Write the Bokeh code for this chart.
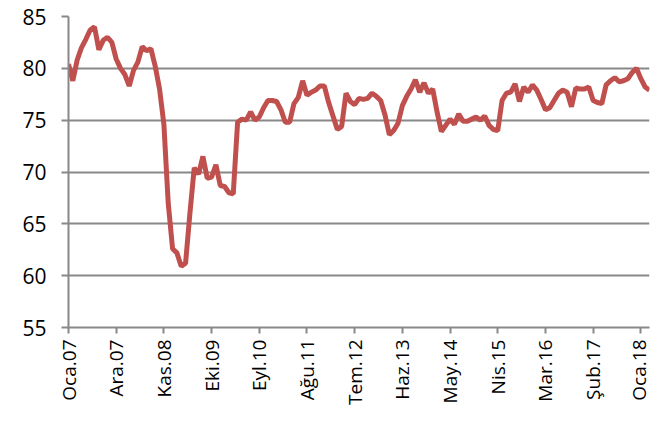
from math import pi

from bokeh.embed import file_html
from bokeh.models import ColumnDataSource, FixedTicker, Range1d
from bokeh.plotting import figure
from bokeh.resources import INLINE

# monthly values, Oca.07 .. Mar.18 (135 months)
months = list(range(135))
values = [
    80.4, 78.8, 80.8, 82.0, 82.8, 83.7, 84.0, 81.8, 82.7, 83.0, 82.5, 80.9,
    80.0, 79.4, 78.3, 79.8, 80.6, 82.1, 81.7, 81.9, 80.2, 78.0, 74.6, 67.0,
    62.6, 62.2, 60.9, 61.2, 66.0, 70.4, 69.8, 71.5, 69.4, 69.5, 70.7, 68.7,
    68.6, 68.0, 67.9, 74.8, 75.1, 75.0, 75.8, 75.0, 75.3, 76.2, 76.9, 76.9,
    76.8, 76.0, 74.8, 74.8, 76.6, 77.2, 78.8, 77.4, 77.7, 77.9, 78.3, 78.3,
    76.7, 75.4, 74.1, 74.4, 77.6, 76.8, 76.5, 77.1, 77.0, 77.1, 77.6, 77.3,
    76.9, 75.5, 73.6, 74.0, 74.7, 76.4, 77.3, 78.0, 78.9, 77.7, 78.6, 77.6,
    78.0, 75.8, 73.9, 74.5, 75.1, 74.6, 75.6, 74.9, 74.9, 75.1, 75.3, 75.0,
    75.4, 74.5, 74.1, 74.0, 76.9, 77.6, 77.7, 78.5, 76.8, 78.2, 77.7, 78.4,
    77.9, 77.0, 76.0, 76.2, 76.9, 77.6, 77.9, 77.7, 76.3, 78.1, 78.0, 78.0,
    78.2, 76.9, 76.7, 76.6, 78.4, 78.8, 79.1, 78.7, 78.8, 79.0, 79.6, 80.0,
    79.0, 78.2, 77.9,
]

# x axis labels, one every 11 months
tick_pos = [0, 11, 22, 33, 44, 55, 66, 77, 88, 99, 110, 121, 132]
tick_labels = ["Oca.07", "Ara.07", "Kas.08", "Eki.09", "Eyl.10", "Ağu.11", "Tem.12",
               "Haz.13", "May.14", "Nis.15", "Mar.16", "Şub.17", "Oca.18"]
y_ticks = [55, 60, 65, 70, 75, 80, 85]

source = ColumnDataSource(data=dict(month=months, value=values))

p = figure(width=651, height=407, output_backend="svg", toolbar_location=None,
           x_range=Range1d(0, 134), y_range=Range1d(55, 85),
           min_border_left=68, min_border_right=2, min_border_top=16, min_border_bottom=79)

p.line("month", "value", source=source, line_width=5, line_color="#C0504D")

grey = "#888888"
font = "Open Sans"

p.outline_line_color = None
p.xgrid.grid_line_color = None
p.ygrid.grid_line_color = grey
p.ygrid.grid_line_width = 2

# x axis
p.xaxis.ticker = FixedTicker(ticks=tick_pos)
p.xaxis.major_label_overrides = {t: l for t, l in zip(tick_pos, tick_labels)}
p.xaxis.major_label_orientation = pi / 2
p.xaxis.axis_line_color = grey
p.xaxis.axis_line_width = 2
p.xaxis.major_tick_line_color = grey
p.xaxis.major_tick_line_width = 2
p.xaxis.major_tick_in = 0
p.xaxis.major_tick_out = 6
p.xaxis.minor_tick_line_color = None
p.xaxis.major_label_standoff = 6
p.xaxis.major_label_text_font = font
p.xaxis.major_label_text_font_size = "19px"
p.xaxis.major_label_text_color = "#000000"

# y axis
p.yaxis.ticker = FixedTicker(ticks=y_ticks)
p.yaxis.axis_line_color = grey
p.yaxis.axis_line_width = 2
p.yaxis.major_tick_line_color = grey
p.yaxis.major_tick_line_width = 2
p.yaxis.major_tick_in = 0
p.yaxis.major_tick_out = 7
p.yaxis.minor_tick_line_color = None
p.yaxis.major_label_standoff = 15
p.yaxis.major_label_text_font = font
p.yaxis.major_label_text_font_size = "21px"
p.yaxis.major_label_text_color = "#000000"

open("out.html", "w").write(file_html(p, INLINE))
